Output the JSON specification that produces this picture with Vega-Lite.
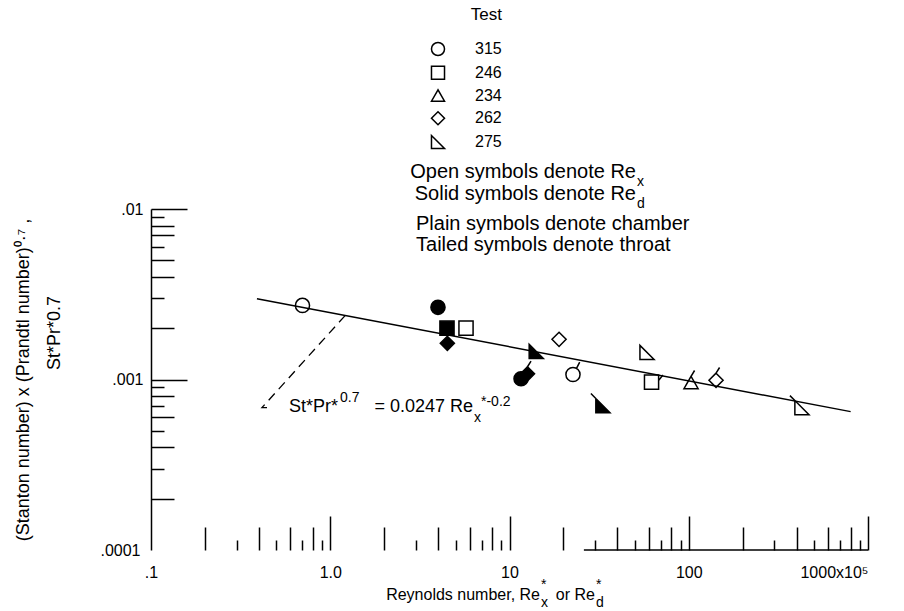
{
  "$schema": "https://vega.github.io/schema/vega-lite/v6.json",
  "width": 717,
  "height": 341,
  "autosize": "none",
  "padding": {"left": 151, "top": 209, "right": 36, "bottom": 61},
  "background": "white",
  "config": {
    "font": "Liberation Sans, Arial, sans-serif",
    "view": {"stroke": null},
    "axis": {"grid": false, "labelColor": "black", "tickColor": "black", "domainColor": "black", "titleColor": "black", "labelFontSize": 16, "tickWidth": 1.5, "domainWidth": 1.5, "labelOverlap": false, "labelBound": false, "labelFlush": false}
  },
  "datasets": {
    "pts": [
      {"x": 0.70, "y": 0.00272, "sym": "315", "rep": "x"},
      {"x": 3.99, "y": 0.00265, "sym": "315", "rep": "d"},
      {"x": 4.48, "y": 0.00200, "sym": "246", "rep": "d"},
      {"x": 5.72, "y": 0.00200, "sym": "246", "rep": "x"},
      {"x": 4.50, "y": 0.00163, "sym": "262", "rep": "d"},
      {"x": 18.9, "y": 0.00172, "sym": "262", "rep": "x"},
      {"x": 14.1, "y": 0.00146, "sym": "275", "rep": "d"},
      {"x": 58.5, "y": 0.00144, "sym": "275", "rep": "x"},
      {"x": 11.6, "y": 0.00101, "sym": "315t", "rep": "d"},
      {"x": 12.6, "y": 0.00108, "sym": "262t", "rep": "d"},
      {"x": 22.6, "y": 0.00107, "sym": "315t", "rep": "x"},
      {"x": 62.0, "y": 0.000966, "sym": "246t", "rep": "x"},
      {"x": 103, "y": 0.00096, "sym": "234t", "rep": "x"},
      {"x": 142, "y": 0.00099, "sym": "262t", "rep": "x"},
      {"x": 33.2, "y": 0.000703, "sym": "275t", "rep": "d"},
      {"x": 428, "y": 0.000684, "sym": "275t", "rep": "x"}
    ],
    "fit": [{"x": 0.39, "y": 0.00298}, {"x": 800, "y": 0.000648}],
    "leader": [{"i": 1, "x": 1.21, "y": 0.00237}, {"i": 2, "x": 0.416, "y": 0.000684}, {"i": 3, "x": 0.46, "y": 0.000684}],
    "base": [{"x": 26, "x2": 1000, "y": 0.0001}],
    "notesR": [
      {"x": 50.78, "y": 0.01520, "text": "Open symbols denote  Re"},
      {"x": 50.78, "y": 0.01129, "text": "Solid symbols denote  Re"}
    ],
    "notesL": [
      {"x": 3.009, "y": 0.007529, "text": "Plain symbols denote chamber"},
      {"x": 3.009, "y": 0.005672, "text": "Tailed symbols denote throat"}
    ],
    "eqR": [
      {"x": 1.105, "y": 0.0006449, "text": "St*Pr*"},
      {"x": 6.256, "y": 0.0006449, "text": "= 0.0247 Re"}
    ],
    "xtitleR": [
      {"x": 14.80, "y": 0.00005089, "text": "Reynolds number, Re"},
      {"x": 29.99, "y": 0.00005089, "text": "or Re"}
    ],
    "ytitle2": [
      {"x": 0.02913, "y": 0.001874, "text": "St*Pr*0.7"}
    ],
    "small": [
      {"x": 51.44, "y": 0.01364, "text": "x"},
      {"x": 51.44, "y": 0.01014, "text": "d"},
      {"x": 1.133, "y": 0.0007379, "text": "0.7"},
      {"x": 6.339, "y": 0.0005631, "text": "x"},
      {"x": 6.934, "y": 0.0006992, "text": "*-0.2"},
      {"x": 14.99, "y": 0.0000463, "text": "x"},
      {"x": 14.99, "y": 0.0000590, "text": "*"},
      {"x": 30.38, "y": 0.0000463, "text": "d"},
      {"x": 30.38, "y": 0.0000590, "text": "*"}
    ]
  },
  "encoding": {
    "x": {
      "field": "x", "type": "quantitative",
      "scale": {"type": "log", "domain": [0.1, 1000], "nice": false},
      "axis": {
        "title": null,
        "domain": false,
        "values": [0.1, 0.2, 0.3, 0.4, 0.5, 0.6, 0.7, 0.8, 0.9, 1, 2, 3, 4, 5, 6, 7, 8, 9, 10, 20, 30, 40, 50, 60, 70, 80, 90, 100, 200, 300, 400, 500, 600, 700, 800, 900, 1000],
        "labelExpr": "datum.value == 0.1 ? '.1' : datum.value == 1 ? '1.0' : datum.value == 10 ? '10' : datum.value == 100 ? '100' : datum.value == 1000 ? '1000x10⁵' : ''",
        "tickSize": {"condition": [
          {"test": "datum.value == 0.1", "value": 0},
          {"test": "datum.value == 1 || datum.value == 10 || datum.value == 100 || datum.value == 1000", "value": -34},
          {"test": "indexof([0.2,0.4,0.6,0.8,2,4,6,8,20,40,60,80,200,400,600,800], datum.value) >= 0", "value": -23}
        ], "value": -10},
        "labelPadding": {"condition": {"test": "datum.value == 0.1", "value": 14}, "value": 48},
        "labelAlign": {"condition": {"test": "datum.value == 1000", "value": "right"}, "value": "center"},
        "labelBaseline": "top"
      }
    },
    "y": {
      "field": "y", "type": "quantitative",
      "scale": {"type": "log", "domain": [0.0001, 0.01], "nice": false},
      "axis": {
        "values": [0.0001, 0.0002, 0.0003, 0.0004, 0.0005, 0.0006, 0.0007, 0.0008, 0.0009, 0.001, 0.002, 0.003, 0.004, 0.005, 0.006, 0.007, 0.008, 0.009, 0.01],
        "labelExpr": "datum.value == 0.01 ? '.01' : datum.value == 0.001 ? '.001' : datum.value == 0.0001 ? '.0001' : ''",
        "tickSize": {"condition": [
          {"test": "datum.value == 0.0001", "value": 0},
          {"test": "datum.value == 0.01 || datum.value == 0.001", "value": -36},
          {"test": "indexof([0.008,0.007,0.005,0.004,0.002,0.0008,0.0006,0.0004,0.0002], datum.value) >= 0", "value": -23}
        ], "value": -13},
        "labelPadding": {"condition": {"test": "datum.value == 0.0001", "value": 11}, "value": 44},
        "labelBaseline": "middle",
        "title": "(Stanton number) x (Prandtl number)⁰·⁷ ,",
        "titleFontSize": 18,
        "titleFontWeight": "normal",
        "titleX": -119
      }
    }
  },
  "layer": [
    {
      "data": {"name": "pts"},
      "mark": {"type": "point", "size": 200, "opacity": 1, "stroke": "black", "strokeWidth": 1.5},
      "encoding": {
        "shape": {
          "field": "sym", "type": "nominal",
          "scale": {
            "domain": ["315", "246", "234", "262", "275", "315t", "246t", "234t", "262t", "275t"],
            "range": ["circle", "square", "triangle-up", "diamond", "M-1,-1L-1,1L1,1Z",
                      "M1,0A1,1,0,1,1,-1,0A1,1,0,1,1,1,0ZM0.5,-0.87L0.95,-1.75",
                      "M-1,-1L1,-1L1,1L-1,1ZM1,-0.2L1.6,-1",
                      "M0,-0.87L1,0.87L-1,0.87ZM0,-0.87L0.5,-1.7",
                      "M0,-1L1,0L0,1L-1,0ZM0,-1L0.5,-1.8",
                      "M-1,-1L-1,1L1,1ZM-1,-1L-1.7,-1.7"]
          },
          "legend": {
            "orient": "none", "legendX": 279, "legendY": -202,
            "title": "Test", "values": ["315", "246", "234", "262", "275"],
            "direction": "vertical",
            "titleFontSize": 17, "titleFontWeight": "normal", "titleColor": "black", "titleAnchor": "end", "titlePadding": 17,
            "labelFontSize": 16, "labelColor": "black", "labelOffset": 29, "rowPadding": 3.75,
            "symbolSize": 170, "symbolStrokeWidth": 1.5, "symbolStrokeColor": "black", "symbolFillColor": "white", "symbolOpacity": 1,
            "padding": 0
          }
        },
        "fill": {"field": "rep", "type": "nominal", "scale": {"domain": ["x", "d"], "range": ["white", "black"]}, "legend": null}
      }
    },
    {
      "data": {"name": "fit"},
      "mark": {"type": "line", "color": "black", "strokeWidth": 1.5},
      "encoding": {}
    },
    {
      "data": {"name": "leader"},
      "mark": {"type": "line", "color": "black", "strokeWidth": 1.3, "strokeDash": [9, 6]},
      "encoding": {
        "order": {"field": "i", "type": "quantitative"}
      }
    },
    {
      "data": {"name": "base"},
      "mark": {"type": "rule", "color": "black", "strokeWidth": 1.5},
      "encoding": {
        "x2": {"field": "x2"}
      }
    },
    {
      "data": {"name": "notesR"},
      "mark": {"type": "text", "align": "right", "baseline": "alphabetic", "fontSize": 20, "color": "black"},
      "encoding": {"text": {"field": "text"}}
    },
    {
      "data": {"name": "notesL"},
      "mark": {"type": "text", "align": "left", "baseline": "alphabetic", "fontSize": 20, "color": "black"},
      "encoding": {"text": {"field": "text"}}
    },
    {
      "data": {"name": "eqR"},
      "mark": {"type": "text", "align": "right", "baseline": "alphabetic", "fontSize": 18, "color": "black"},
      "encoding": {"text": {"field": "text"}}
    },
    {
      "data": {"name": "xtitleR"},
      "mark": {"type": "text", "align": "right", "baseline": "alphabetic", "fontSize": 16, "color": "black"},
      "encoding": {"text": {"field": "text"}}
    },
    {
      "data": {"name": "ytitle2"},
      "mark": {"type": "text", "align": "center", "baseline": "middle", "angle": 270, "fontSize": 18, "color": "black"},
      "encoding": {"text": {"field": "text"}}
    },
    {
      "data": {"name": "small"},
      "mark": {"type": "text", "align": "left", "baseline": "alphabetic", "fontSize": 14, "color": "black"},
      "encoding": {"text": {"field": "text"}}
    }
  ]
}
